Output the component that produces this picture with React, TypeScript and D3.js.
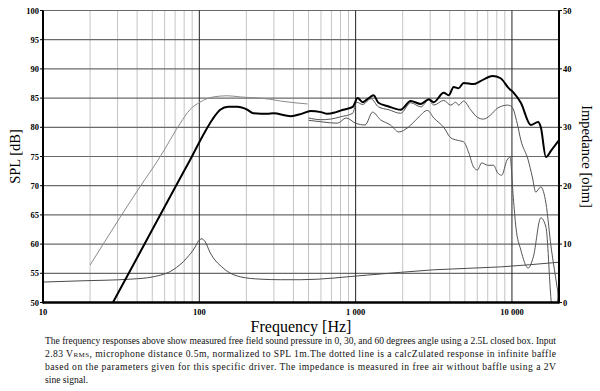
import React, { useEffect, useRef } from 'react';
import * as d3 from 'd3';

// 0 degrees (thick black)
const freq0 = [28, 36, 48.5, 65, 87.6, 109, 121, 136, 153, 175, 203, 222, 273, 298, 384, 450, 515, 600, 661, 750, 834, 958, 1030, 1110, 1213, 1300, 1400, 1610, 1940, 2250, 2615, 2940, 3160, 3660, 3940, 4240, 4560, 4910, 5680, 6290, 7510, 8460, 9530, 10270, 11400, 13200, 14700, 15300, 16500, 17800, 20000];
const spl0 = [50, 55.4, 61.8, 68.1, 74.5, 79.3, 81.3, 83, 83.5, 83.5, 83, 82.4, 82.3, 82.4, 81.9, 82.3, 82.8, 82.6, 82.3, 82.6, 83, 83.5, 85, 84.3, 85, 85.5, 84.2, 83.6, 83, 84.5, 84, 84.8, 84.3, 85.9, 85.5, 86.9, 86.7, 87.6, 87.4, 87.9, 88.8, 88.4, 86.7, 85.9, 84.2, 80.4, 80.9, 80, 74.9, 76, 77.8];

// 30 degrees
const freq30 = [500, 600, 690, 800, 958, 1015, 1110, 1250, 1400, 1630, 1940, 2250, 2615, 2940, 3160, 3660, 4060, 4370, 4560, 4910, 5440, 6020, 6560, 7300, 8100, 9400, 10000, 10800, 11400, 12700, 13500, 14200, 15300, 16500, 17800, 19000, 20000];
const spl30 = [81.6, 81.3, 81.4, 81.8, 82.4, 84.3, 83.9, 84.9, 83.5, 83, 82.4, 84.2, 83.5, 84.7, 83.8, 84.6, 83.8, 84.3, 83.8, 84.5, 83, 81.7, 81.4, 82.1, 83.3, 83.8, 83.5, 80.7, 77.8, 74.4, 71.5, 68.9, 69.8, 67, 59.5, 54.4, 50.5];

// 60 degrees
const freq60 = [500, 620, 765, 870, 1000, 1150, 1285, 1440, 1670, 1890, 2170, 2500, 2880, 3160, 3660, 4060, 4450, 4910, 5300, 5680, 6020, 6400, 7000, 7620, 8100, 8600, 9300, 9720, 10200, 10600, 11400, 12700, 13700, 15300, 16500, 17800, 18600, 19400, 20000];
const spl60 = [81.2, 80.9, 80.7, 81.6, 80.7, 80.4, 82.6, 81.3, 80.4, 79.2, 80, 81.6, 82.9, 81.6, 80, 78.2, 77.8, 77.5, 75.6, 73.2, 72.7, 73.9, 73.5, 73.5, 72.2, 71.8, 74.4, 74.9, 68, 62.9, 59, 55.9, 57.8, 64.5, 62.9, 50.4, 46, 49, 54];

// calculated infinite baffle response
const freqCalc = [20, 31, 41.7, 56, 75.6, 87, 101, 123, 151, 183, 284, 330, 493];
const splCalc = [56.4, 64.5, 69.8, 74.9, 80.7, 83, 84.3, 85.2, 85.4, 85.2, 84.8, 84.5, 84];

// impedance in ohm
const freqImp = [10, 17, 36.5, 50.7, 68, 83, 94, 98.5, 104, 109, 117, 142, 183, 245, 330, 443, 1195, 3160, 8460, 20000];
const imp = [3.5, 3.7, 4.0, 4.4, 5.6, 7.6, 9.5, 10.5, 10.9, 10.4, 8.6, 5.9, 4.4, 4.0, 3.9, 3.9, 4.7, 5.6, 6.1, 6.9];

const splTicks = [50, 55, 60, 65, 70, 75, 80, 85, 90, 95, 100];
const impTicks = [0, 10, 20, 30, 40, 50];
const freqTicks = [10, 100, 1000, 10000];
const freqTickLabels = ['10', '100', '1 000', '10 000'];

const captionLines = [
    'The frequency responses above show measured free field sound pressure in 0, 30, and 60 degrees angle using a 2.5L closed box. Input',
    'microphone distance 0.5m, normalized to SPL 1m.The dotted line is a calcZulated response in infinite baffle',
    'based on the parameters given for this specific driver. The impedance is measured in free air without baffle using a 2V',
    'sine signal.'
];

const width = 600;
const height = 391;

export default function App() {
    const ref = useRef<SVGSVGElement | null>(null);

    useEffect(() => {
        document.body.style.margin = '0';
        drawChart();
    }, []);

    function drawChart() {
        const svg = d3.select(ref.current);
        svg.selectAll('*').remove();

        const margin = { top: 10.5, right: 41, bottom: 88.5, left: 43 };
        const font = "'Liberation Serif', 'Times New Roman', serif";

        const x = d3.scaleLog()
            .domain([10, 20000])
            .range([margin.left, width - margin.right]);
        const y = d3.scaleLinear()
            .domain([50, 100])
            .range([height - margin.bottom, margin.top]);
        const yImp = d3.scaleLinear()
            .domain([0, 50])
            .range([height - margin.bottom, margin.top]);

        const x0 = margin.left, x1 = width - margin.right;
        const y0 = height - margin.bottom, y1 = margin.top;

        svg.append('defs').append('clipPath').attr('id', 'plot-clip')
            .append('rect')
            .attr('x', x0).attr('y', y1)
            .attr('width', x1 - x0).attr('height', y0 - y1);

        // minor vertical grid
        const minor: number[] = [];
        [10, 100, 1000, 10000].forEach(d => {
            for (let k = 2; k <= 9; k++) if (d * k < 20000) minor.push(d * k);
        });
        svg.append('g').selectAll('line')
            .data(minor)
            .enter().append('line')
            .attr('x1', d => x(d)).attr('x2', d => x(d))
            .attr('y1', y1).attr('y2', y0)
            .attr('stroke', '#c4c4c4')
            .attr('stroke-width', 1);

        // horizontal grid
        svg.append('g').selectAll('line')
            .data(splTicks.slice(1, -1))
            .enter().append('line')
            .attr('x1', x0).attr('x2', x1)
            .attr('y1', d => y(d)).attr('y2', d => y(d))
            .attr('stroke', '#6a6a6a')
            .attr('stroke-width', 1.2);

        // top border
        svg.append('line')
            .attr('x1', x0).attr('x2', x1)
            .attr('y1', y(100)).attr('y2', y(100))
            .attr('stroke', '#6a6a6a').attr('stroke-width', 1);

        // major vertical grid
        svg.append('g').selectAll('line')
            .data([100, 1000, 10000])
            .enter().append('line')
            .attr('x1', d => x(d)).attr('x2', d => x(d))
            .attr('y1', y1).attr('y2', y0)
            .attr('stroke', '#222')
            .attr('stroke-width', 1);

        const line = d3.line<[number, number]>()
            .x(d => x(d[0]))
            .y(d => y(d[1]))
            .curve(d3.curveMonotoneX);
        const lineImp = d3.line<[number, number]>()
            .x(d => x(d[0]))
            .y(d => yImp(d[1]))
            .curve(d3.curveMonotoneX);

        const plot = svg.append('g').attr('clip-path', 'url(#plot-clip)');

        const series = [
            { f: freqCalc, v: splCalc, color: '#8a8a8a', w: 1, gen: line },
            { f: freqImp, v: imp, color: '#4a4a4a', w: 1, gen: lineImp },
            { f: freq60, v: spl60, color: '#555', w: 1, gen: line },
            { f: freq30, v: spl30, color: '#555', w: 1, gen: line },
            { f: freq0, v: spl0, color: '#000', w: 2, gen: line },
        ];
        series.forEach(s => {
            plot.append('path')
                .datum(s.f.map((f, i) => [f, s.v[i]] as [number, number]))
                .attr('fill', 'none')
                .attr('stroke', s.color)
                .attr('stroke-width', s.w)
                .attr('stroke-linejoin', 'round')
                .attr('d', s.gen);
        });

        // axes frame
        svg.append('line')
            .attr('x1', x0).attr('x2', x0).attr('y1', y1).attr('y2', y0 + 1)
            .attr('stroke', '#000').attr('stroke-width', 2);
        svg.append('line')
            .attr('x1', x1).attr('x2', x1).attr('y1', y1).attr('y2', y0 + 1)
            .attr('stroke', '#000').attr('stroke-width', 2);
        svg.append('line')
            .attr('x1', x0).attr('x2', x1).attr('y1', y0).attr('y2', y0)
            .attr('stroke', '#000').attr('stroke-width', 2.5);

        // left axis
        const left = svg.append('g');
        left.selectAll('line')
            .data(splTicks)
            .enter().append('line')
            .attr('x1', x0 - 3).attr('x2', x0)
            .attr('y1', d => y(d)).attr('y2', d => y(d))
            .attr('stroke', '#000');
        left.selectAll('text')
            .data(splTicks)
            .enter().append('text')
            .attr('x', x0 - 4)
            .attr('y', d => y(d) + 3)
            .attr('text-anchor', 'end')
            .attr('font-family', font)
            .attr('font-weight', 'bold')
            .attr('font-size', 8.5)
            .text(d => d);

        // right axis
        const right = svg.append('g');
        right.selectAll('line')
            .data(impTicks)
            .enter().append('line')
            .attr('x1', x1).attr('x2', x1 + 3)
            .attr('y1', d => yImp(d)).attr('y2', d => yImp(d))
            .attr('stroke', '#000');
        right.selectAll('text')
            .data(impTicks)
            .enter().append('text')
            .attr('x', x1 + 4)
            .attr('y', d => yImp(d) + 3)
            .attr('font-family', font)
            .attr('font-weight', 'bold')
            .attr('font-size', 8.5)
            .text(d => d);

        // bottom labels
        svg.append('g').selectAll('text')
            .data(freqTicks)
            .enter().append('text')
            .attr('x', d => x(d))
            .attr('y', y0 + 12)
            .attr('text-anchor', 'middle')
            .attr('font-family', font)
            .attr('font-weight', 'bold')
            .attr('font-size', 8.5)
            .text((d, i) => freqTickLabels[i]);

        // axis titles
        svg.append('text')
            .attr('transform', `translate(20,${(y0 + y1) / 2}) rotate(-90)`)
            .attr('text-anchor', 'middle')
            .attr('font-family', font)
            .attr('font-size', 14.5)
            .text('SPL [dB]');
        svg.append('text')
            .attr('transform', `translate(582,${(y0 + y1) / 2}) rotate(90)`)
            .attr('text-anchor', 'middle')
            .attr('font-family', font)
            .attr('font-size', 14.5)
            .text('Impedance [ohm]');
        svg.append('text')
            .attr('x', (x0 + x1) / 2)
            .attr('y', 332)
            .attr('text-anchor', 'middle')
            .attr('font-family', font)
            .attr('font-size', 16)
            .text('Frequency [Hz]');

        // caption
        const cap = svg.append('g')
            .attr('font-family', font)
            .attr('font-size', 9.6)
            .attr('fill', '#111');
        const capLeft = 45, capRight = 556;
        cap.append('text')
            .attr('x', capLeft).attr('y', 344)
            .attr('textLength', capRight - capLeft)
            .attr('lengthAdjust', 'spacingAndGlyphs')
            .text(captionLines[0]);
        const l2 = cap.append('text')
            .attr('x', capLeft).attr('y', 357)
            .attr('textLength', capRight - capLeft)
            .attr('lengthAdjust', 'spacing');
        l2.append('tspan').text('2.83 V');
        l2.append('tspan').attr('font-size', 7).text('RMS');
        l2.append('tspan').text(', ' + captionLines[1]);
        cap.append('text')
            .attr('x', capLeft).attr('y', 370)
            .attr('textLength', capRight - capLeft)
            .attr('lengthAdjust', 'spacing')
            .text(captionLines[2]);
        cap.append('text')
            .attr('x', capLeft).attr('y', 383)
            .text(captionLines[3]);
    }

    return (
        <svg ref={ref} width={width} height={height} style={{ display: 'block', background: '#fff' }} />
    );
}
